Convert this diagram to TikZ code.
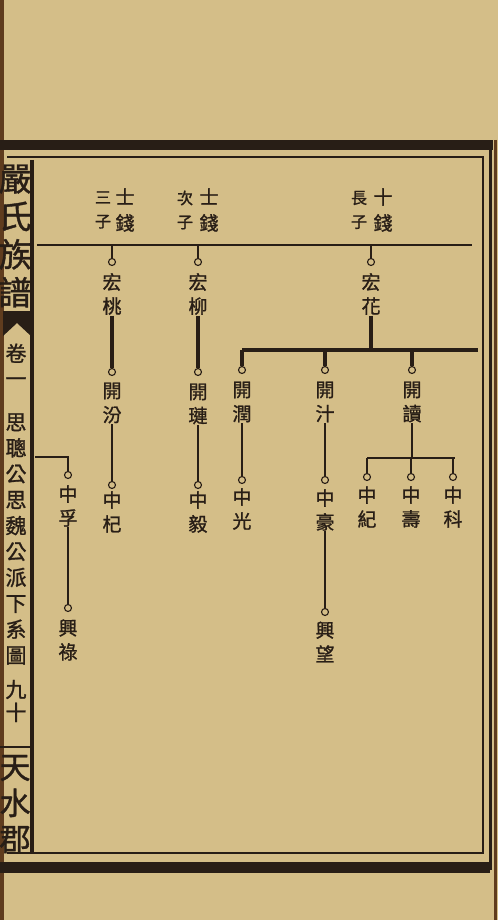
\documentclass[tikz,border=0pt]{standalone}
\usepackage{fontspec}
\newfontfamily\cjk[FakeBold=1.2]{Noto Sans CJK TC}
\usetikzlibrary{positioning}
\definecolor{paper}{RGB}{212,190,136}
\definecolor{ink}{RGB}{40,30,22}
\definecolor{edgebrown}{RGB}{95,60,30}

\begin{document}
\begin{tikzpicture}[x=1pt,y=-1pt,
    kin/.style={font=\cjk\fontsize{19}{24}\selectfont,align=center,inner sep=0.5pt,text=ink},
    rank/.style={font=\cjk\fontsize{16}{24}\selectfont,align=center,inner sep=0.5pt,text=ink},
    ring/.style={circle,draw=ink,fill=paper,line width=1.1pt,inner sep=0pt,minimum size=7pt},
    link/.style={draw=ink,line width=2pt},
    heavy/.style={draw=ink,line width=3.2pt},
    side/.style={align=center,inner sep=0pt,text=ink}]

    \fill[paper] (0,0) rectangle (498,920);
    \useasboundingbox (0,0) rectangle (498,920);

    % page edges and frame
    \fill[edgebrown] (0,0) rectangle (4,920);
    \draw[edgebrown,line width=3pt] (495,140) -- (495,920);
    \fill[ink] (0,140) rectangle (493,150);
    \fill[ink] (0,862) rectangle (490,873);
    \draw[ink,line width=1.2pt] (7,157) -- (483,157) -- (483,853) -- (7,853);
    \draw[ink,line width=3pt] (490,146) -- (490,870);
    \draw[ink,line width=4pt] (32,160) -- (32,853);
    \draw[ink,line width=1.5pt] (0,747) -- (31,747);
    \fill[ink] (3,311) -- (31,311) -- (31,336) -- (17,323) -- (3,336) -- cycle;

    % margin column
    \node[side,font=\cjk\fontsize{33}{38}\selectfont] (title) at (15,236) {嚴\\氏\\族\\譜};
    \node[side,font=\cjk\fontsize{21}{25}\selectfont] (volume) at (16,365) {卷\\一};
    \node[side,font=\cjk\fontsize{21}{25.9}\selectfont] (branch) at (16,539) {思\\聰\\公\\思\\魏\\公\\派\\下\\系\\圖};
    \node[side,font=\cjk\fontsize{21}{23}\selectfont] (folio) at (16,701) {九\\十};
    \node[side,font=\cjk\fontsize{31}{36}\selectfont] (hall) at (15,804) {天\\水\\郡};

    % header
    \coordinate (rule-l) at (37,245);
    \coordinate (rule-r) at (472,245);
    \draw[ink,line width=1.2pt] (rule-l) -- (rule-r);

    \node[kin,font=\cjk\fontsize{19}{26}\selectfont] (shiqian3) at (125,210) {士\\錢};
    \node[rank] (third) at (103,210) {三\\子};
    \node[kin,font=\cjk\fontsize{19}{26}\selectfont] (shiqian2) at (209,210) {士\\錢};
    \node[rank] (second) at (185,210) {次\\子};
    \node[kin,font=\cjk\fontsize{19}{26}\selectfont] (shiqian1) at (383,210) {十\\錢};
    \node[rank] (first) at (359,210) {長\\子};

    % second generation
    \node[ring] (r-hongtao) at (112,262) {};
    \node[kin] (hongtao) at (112,294) {宏\\桃};
    \node[ring] (r-hongliu) at (198,262) {};
    \node[kin] (hongliu) at (198,294) {宏\\柳};
    \node[ring] (r-honghua) at (371,262) {};
    \node[kin] (honghua) at (371,294) {宏\\花};

    \draw[link,line width=2.4pt] (r-hongtao |- rule-l) -- (r-hongtao.north);
    \draw[link,line width=2.4pt] (r-hongliu |- rule-l) -- (r-hongliu.north);
    \draw[link,line width=2.4pt] (r-honghua |- rule-l) -- (r-honghua.north);

    % third generation
    \node[ring] (r-kaifen) at (112,372) {};
    \node[kin] (kaifen) at (112,403) {開\\汾};
    \node[ring] (r-kailian) at (198,372) {};
    \node[kin] (kailian) at (198,404) {開\\璉};
    \node[ring] (r-kairun) at (242,370) {};
    \node[kin] (kairun) at (242,402) {開\\潤};
    \node[ring] (r-kaizhi) at (325,370) {};
    \node[kin] (kaizhi) at (325,402) {開\\汁};
    \node[ring] (r-kaidu) at (412,370) {};
    \node[kin] (kaidu) at (412,402) {開\\讀};

    \draw[heavy] (hongtao.south) -- (r-kaifen.north);
    \draw[heavy] (hongliu.south) -- (r-kailian.north);

    \coordinate (bar1-l) at (242,350);
    \coordinate (bar1-r) at (478,350);
    \draw[heavy] (honghua.south) -- (honghua |- bar1-l);
    \draw[heavy,line width=4pt] (bar1-l) -- (bar1-r);
    \draw[heavy] (r-kairun |- bar1-l) -- (r-kairun.north);
    \draw[heavy] (r-kaizhi |- bar1-l) -- (r-kaizhi.north);
    \draw[heavy] (r-kaidu |- bar1-l) -- (r-kaidu.north);

    % fourth generation
    \node[ring] (r-zhongfu) at (68,475) {};
    \node[kin] (zhongfu) at (68,506) {中\\孚};
    \node[ring] (r-zhongqi) at (112,485) {};
    \node[kin] (zhongqi) at (112,512) {中\\杞};
    \node[ring] (r-zhongyi) at (198,485) {};
    \node[kin] (zhongyi) at (198,512) {中\\毅};
    \node[ring] (r-zhongguang) at (242,480) {};
    \node[kin] (zhongguang) at (242,509) {中\\光};
    \node[ring] (r-zhonghao) at (325,480) {};
    \node[kin] (zhonghao) at (325,510) {中\\豪};
    \node[ring] (r-zhongji) at (367,477) {};
    \node[kin] (zhongji) at (367,507) {中\\紀};
    \node[ring] (r-zhongshou) at (411,477) {};
    \node[kin] (zhongshou) at (411,507) {中\\壽};
    \node[ring] (r-zhongke) at (453,477) {};
    \node[kin] (zhongke) at (453,507) {中\\科};

    \coordinate (from-prev) at (35,457);
    \draw[link] (from-prev) -| (r-zhongfu.north);
    \draw[link] (kaifen.south) -- (r-zhongqi.north);
    \draw[link] (kailian.south) -- (r-zhongyi.north);
    \draw[link] (kairun.south) -- (r-zhongguang.north);
    \draw[link] (kaizhi.south) -- (r-zhonghao.north);

    \coordinate (bar2-l) at (367,458);
    \coordinate (bar2-r) at (455,458);
    \draw[link,line width=2.6pt] (kaidu.south) -- (kaidu |- bar2-l);
    \draw[link,line width=2.6pt] (bar2-l) -- (bar2-r);
    \draw[link] (r-zhongji |- bar2-l) -- (r-zhongji.north);
    \draw[link] (r-zhongshou |- bar2-l) -- (r-zhongshou.north);
    \draw[link] (r-zhongke |- bar2-l) -- (r-zhongke.north);

    % fifth generation
    \node[ring] (r-xinglu) at (68,608) {};
    \node[kin] (xinglu) at (68,640) {興\\祿};
    \node[ring] (r-xingwang) at (325,612) {};
    \node[kin] (xingwang) at (325,642) {興\\望};

    \draw[link,line width=2.4pt] (zhongfu.south) -- (r-xinglu.north);
    \draw[link,line width=2.4pt] (zhonghao.south) -- (r-xingwang.north);
\end{tikzpicture}
\end{document}
